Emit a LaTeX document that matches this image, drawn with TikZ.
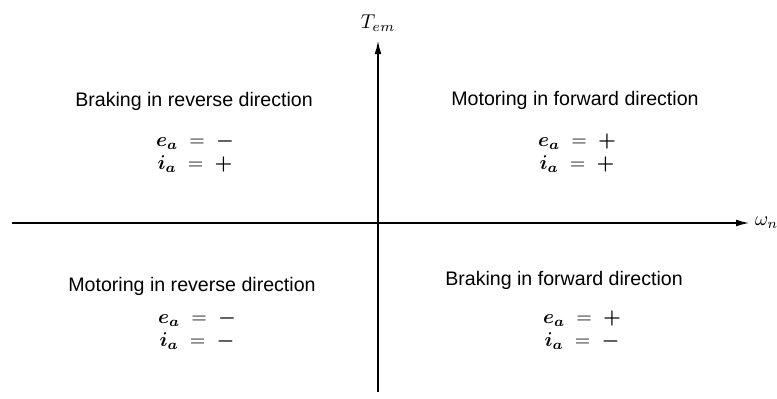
\documentclass[tikz,border=0pt]{standalone}
\usepackage{fontspec}
\setmainfont{Liberation Sans}
\usepackage{amsmath}
\usetikzlibrary{arrows.meta}
\tikzset{
    axis/.style={line width=1pt, -{Latex[length=7pt, width=3.4pt]}},
    quadlabel/.style={font=\fontsize{9.8}{11}\selectfont},
    signs/.style={align=center, font=\fontsize{10.3}{11.6}\selectfont}
}
\newcommand{\quadsigns}[2]{$\boldsymbol{e_a}\;=\;\boldsymbol{#1}$\\$\boldsymbol{i_a}\;=\;\boldsymbol{#2}$}
\begin{document}
\begin{tikzpicture}[x=0.5pt, y=-0.5pt]
        \useasboundingbox (0,0) rectangle (777,398);

        % Axes
        \coordinate (O) at (378,223);
        \coordinate (wleft) at (12,223);
        \coordinate (wright) at (750,223);
        \coordinate (tbottom) at (378,392);
        \coordinate (ttop) at (378,40);
        \draw[axis] (wleft) -- (wright) node[right, inner sep=2pt] (wlab) {$\omega_n$};
        \draw[axis] (tbottom) -- (ttop) node[above, inner sep=4pt] (tlab) {$T_{em}$};

        % Quadrant II
        \node[quadlabel] (q2) at (194,101) {Braking in reverse direction};
        \node[signs] (s2) at (195,153) {\quadsigns{-}{+}};

        % Quadrant I
        \node[quadlabel] (q1) at (575,100) {Motoring in forward direction};
        \node[signs] (s1) at (577,153) {\quadsigns{+}{+}};

        % Quadrant III
        \node[quadlabel] (q3) at (192,286) {Motoring in reverse direction};
        \node[signs] (s3) at (197,330) {\quadsigns{-}{-}};

        % Quadrant IV
        \node[quadlabel] (q4) at (564,280) {Braking in forward direction};
        \node[signs] (s4) at (582,330) {\quadsigns{+}{-}};
    \end{tikzpicture}
\end{document}
